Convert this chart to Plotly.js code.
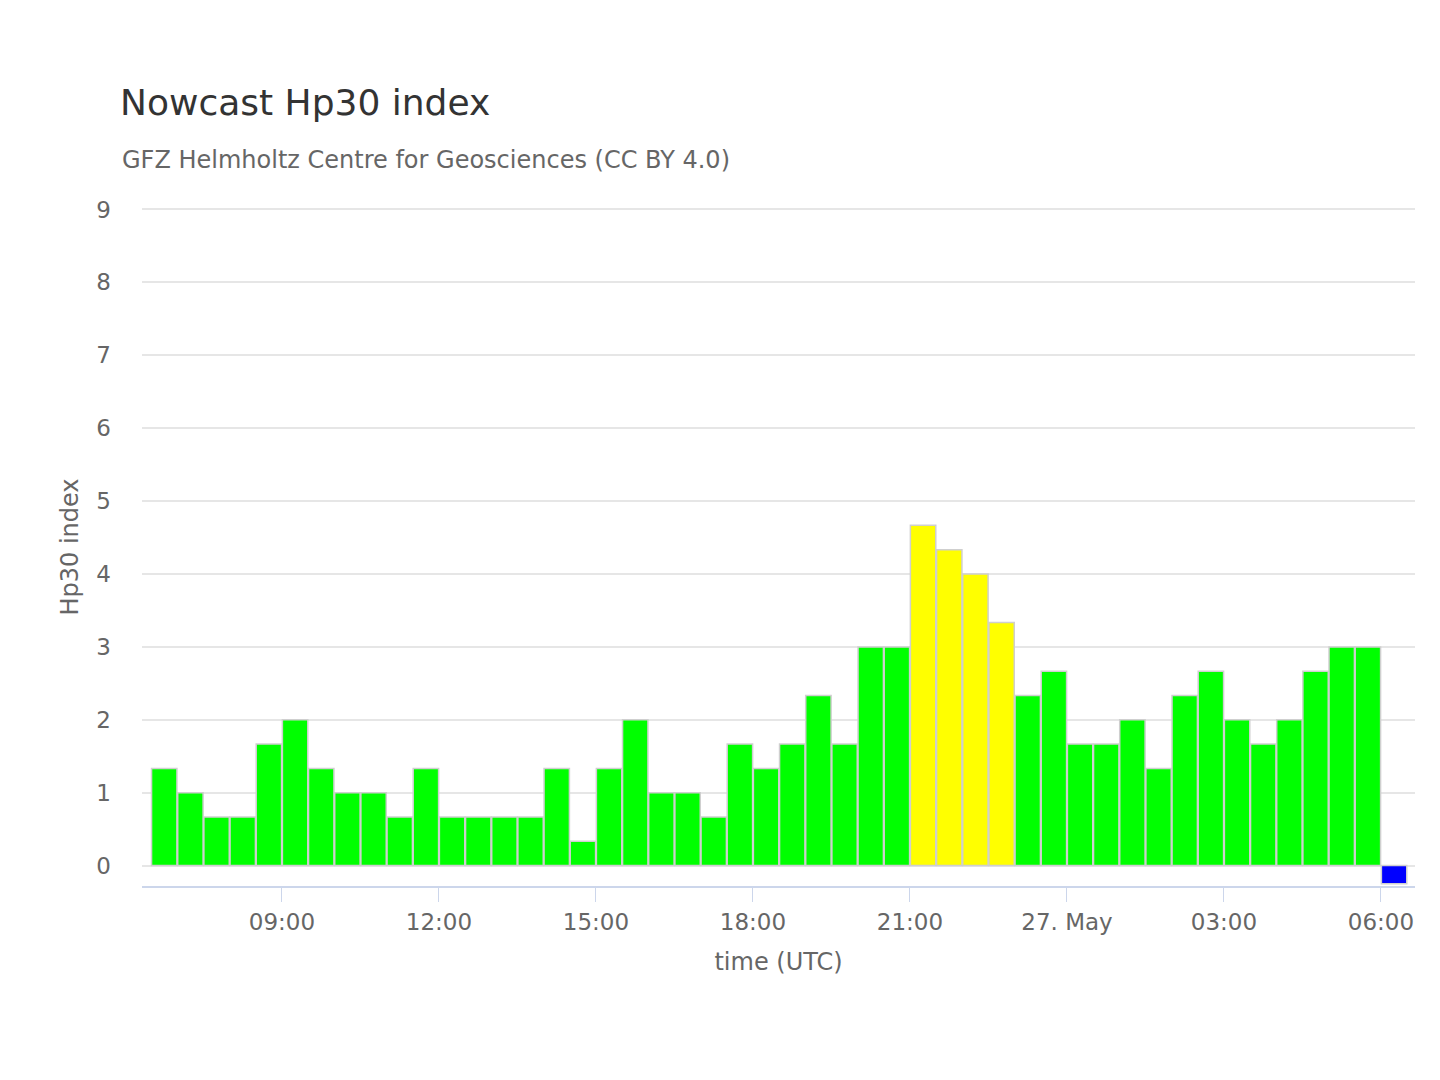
<!DOCTYPE html>
<html>
<head>
<meta charset="utf-8">
<script src="https://cdn.plot.ly/plotly-3.0.1.min.js"></script>
<style>body{margin:0;background:#fff}#chart{width:1440px;height:1080px}</style>
</head>
<body>
<div id="chart"></div>
<script>
// Hp30 values, one per half hour, bars centred at :15/:45
const startTime = '2024-05-26T06:45:00Z';
const hp30 = [1.333, 1.0, 0.667, 0.667, 1.667, 2.0, 1.333, 1.0, 1.0, 0.667,
  1.333, 0.667, 0.667, 0.667, 0.667, 1.333, 0.333, 1.333, 2.0, 1.0,
  1.0, 0.667, 1.667, 1.333, 1.667, 2.333, 1.667, 3.0, 3.0, 4.667,
  4.333, 4.0, 3.333, 2.333, 2.667, 1.667, 1.667, 2.0, 1.333, 2.333,
  2.667, 2.0, 1.667, 2.0, 2.667, 3.0, 3.0, -0.25];
const tickVals = ['2024-05-26T09:00:00', '2024-05-26T12:00:00', '2024-05-26T15:00:00',
  '2024-05-26T18:00:00', '2024-05-26T21:00:00', '2024-05-27T00:00:00',
  '2024-05-27T03:00:00', '2024-05-27T06:00:00'];
const tickText = ['09:00', '12:00', '15:00', '18:00', '21:00', '27. May', '03:00', '06:00'];

const t0 = new Date(startTime).getTime();
const times = hp30.map((v, i) => new Date(t0 + i * 1800000).toISOString().slice(0, 19));
const colors = hp30.map(v => v < 0 ? '#0000ff' : (v >= 3.333 && v < 5 ? '#ffff00' : '#00ff00'));

const trace = {
    type: 'bar',
    x: times,
    y: hp30,
    marker: {color: colors, line: {color: '#cfcfcf', width: 1.5}},
    hoverinfo: 'x+y'
};

const layout = {
    width: 1440,
    height: 1080,
    margin: {l: 142, r: 25, t: 208, b: 194},
    paper_bgcolor: '#fff',
    plot_bgcolor: '#fff',
    font: {family: 'DejaVu Sans, sans-serif', color: '#666'},
    bargap: 0.03,
    showlegend: false,
    title: {text: 'Nowcast Hp30 index', x: 120 / 1440, xanchor: 'left', y: 1 - 102 / 1080, yanchor: 'middle',
        font: {size: 36, color: '#333'}},
    annotations: [{text: 'GFZ Helmholtz Centre for Geosciences (CC BY 4.0)', xref: 'paper', yref: 'paper',
        x: -22 / 1273, xanchor: 'left', y: 1 + 48 / 678, yanchor: 'middle', showarrow: false,
        font: {size: 24, color: '#666'}}],
    xaxis: {
        type: 'date',
        range: ['2024-05-26T06:19:30', '2024-05-27T06:39:00'],
        tickvals: tickVals,
        ticktext: tickText,
        tickfont: {size: 23, color: '#666'},
        ticks: 'outside', ticklen: 14, tickcolor: '#ccd6eb',
        showline: true, linecolor: '#ccd6eb', linewidth: 2,
        showgrid: false, zeroline: false,
        title: {text: 'time (UTC)', font: {size: 24, color: '#666'}, standoff: 20}
    },
    yaxis: {
        range: [-0.28, 9.02],
        tickvals: [0, 1, 2, 3, 4, 5, 6, 7, 8, 9],
        tickfont: {size: 23, color: '#666'},
        gridcolor: '#e6e6e6', gridwidth: 1.5,
        zeroline: false,
        ticklabelstandoff: 30,
        title: {text: 'Hp30 index', font: {size: 24, color: '#666'}, standoff: 10}
    }
};

Plotly.newPlot('chart', [trace], layout, {displayModeBar: false});
</script>
</body>
</html>
